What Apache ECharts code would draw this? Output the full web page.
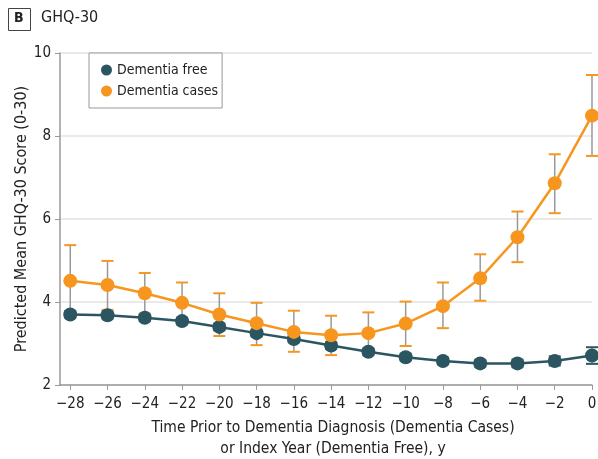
<!DOCTYPE html>
<html><head><meta charset="utf-8">
<script src="https://cdn.jsdelivr.net/npm/echarts@6/dist/echarts.min.js"></script>
<style>html,body{margin:0;padding:0;background:#fff}#c{width:598px;height:459px}</style>
</head><body><div id="c"></div>
<script>
const years = [-28,-26,-24,-22,-20,-18,-16,-14,-12,-10,-8,-6,-4,-2,0];
const casesMean = [4.51,4.41,4.21,3.98,3.70,3.49,3.28,3.20,3.25,3.48,3.90,4.57,5.56,6.86,8.49];
const casesUpper = [5.37,4.99,4.70,4.47,4.21,3.98,3.79,3.67,3.75,4.01,4.47,5.15,6.18,7.56,9.47];
const casesLower = [3.65,3.81,3.72,3.49,3.18,2.96,2.80,2.72,2.75,2.94,3.37,4.03,4.96,6.14,7.52];
const freeMean = [3.70,3.68,3.62,3.54,3.40,3.25,3.11,2.95,2.80,2.67,2.58,2.52,2.52,2.58,2.71];
const freeUpper = [3.78,3.76,3.70,3.62,3.48,3.33,3.19,3.03,2.88,2.75,2.66,2.60,2.61,2.69,2.91];
const freeLower = [3.62,3.60,3.54,3.46,3.32,3.17,3.03,2.87,2.72,2.59,2.50,2.44,2.43,2.47,2.51];
const yTicks = [2,4,6,8,10];

const ORANGE = '#F7961E', TEAL = '#2B5661';
const FONT = '"Liberation Sans Narrow","DejaVu Sans Condensed","Liberation Sans",sans-serif';

function errSeries(name, lower, upper, color) {
  return {
    type: 'custom', name: name, z: 2, silent: true, clip: false,
    itemStyle: {color: color},
    data: years.map((x, i) => [x, lower[i], upper[i]]),
    renderItem: function (params, api) {
      const lo = api.coord([api.value(0), api.value(1)]);
      const hi = api.coord([api.value(0), api.value(2)]);
      const hw = 6;
      return {
        type: 'group',
        children: [
          {type: 'line', shape: {x1: lo[0], y1: lo[1], x2: hi[0], y2: hi[1]}, style: {stroke: '#999', lineWidth: 1.5}},
          {type: 'line', shape: {x1: hi[0]-hw, y1: hi[1], x2: hi[0]+hw, y2: hi[1]}, style: {stroke: color, lineWidth: 2}},
          {type: 'line', shape: {x1: lo[0]-hw, y1: lo[1], x2: lo[0]+hw, y2: lo[1]}, style: {stroke: color, lineWidth: 2}}
        ]
      };
    }
  };
}

const chart = echarts.init(document.getElementById('c'), null, {renderer: 'canvas'});
chart.setOption({
  animation: false,
  textStyle: {fontFamily: FONT},
  grid: {left: 60, right: 6, top: 53, bottom: 74, containLabel: false, outerBoundsMode: 'none'},
  graphic: [
    {type: 'rect', left: 8, top: 8, shape: {width: 22, height: 22}, style: {fill: '#fff', stroke: '#444', lineWidth: 1}},
    {type: 'text', left: 14, top: 11, style: {text: 'B', font: 'bold 14px ' + FONT, fill: '#222'}},
    {type: 'text', left: 41, top: 10, style: {text: 'GHQ-30', font: '16px ' + FONT, fill: '#222'}}
  ],
  legend: {
    orient: 'vertical', left: 89, top: 53,
    padding: [10, 4, 10, 12], itemGap: 7,
    borderColor: '#999', borderWidth: 1, backgroundColor: '#fff',
    itemWidth: 11, itemHeight: 11,
    textStyle: {fontSize: 14, color: '#222', fontFamily: FONT},
    data: [{name: 'Dementia free', icon: 'circle', itemStyle: {color: TEAL}},
           {name: 'Dementia cases', icon: 'circle', itemStyle: {color: ORANGE}}]
  },
  xAxis: {
    type: 'value', min: -28.55, max: 0,
    name: 'Time Prior to Dementia Diagnosis (Dementia Cases)\nor Index Year (Dementia Free), y',
    nameLocation: 'middle', nameGap: 32, nameMoveOverlap: false,
    nameTextStyle: {fontSize: 15.5, color: '#222', lineHeight: 21, fontFamily: FONT, padding: [0, 0, 0, 14]},
    axisLine: {onZero: false, lineStyle: {color: '#999', width: 1.5}},
    axisTick: {show: true, length: 5, lineStyle: {color: '#999'}, customValues: years},
    axisLabel: {fontSize: 15, color: '#222', margin: 12, fontFamily: FONT,
      customValues: years,
      formatter: v => (v < 0 ? '\u2212' + Math.abs(v) : String(v))},
    splitLine: {show: false}
  },
  yAxis: {
    type: 'value', min: 2, max: 10, interval: 2,
    name: 'Predicted Mean GHQ-30 Score (0-30)',
    nameLocation: 'middle', nameGap: 30, nameMoveOverlap: false,
    nameTextStyle: {fontSize: 16, color: '#222', fontFamily: FONT},
    axisLine: {show: true, onZero: false, lineStyle: {color: '#999', width: 1.5}},
    axisTick: {show: true, length: 5, lineStyle: {color: '#999'}},
    axisLabel: {fontSize: 15, color: '#222', margin: 9, fontFamily: FONT},
    splitLine: {show: true, lineStyle: {color: '#e3e3e3', width: 1.5}}
  },
  series: [
    errSeries('err-free', freeLower, freeUpper, TEAL),
    errSeries('err-cases', casesLower, casesUpper, ORANGE),
    {type: 'line', name: 'Dementia free', z: 3, clip: false,
      data: years.map((x, i) => [x, freeMean[i]]),
      symbol: 'circle', symbolSize: 14,
      itemStyle: {color: TEAL}, lineStyle: {color: TEAL, width: 2.5}},
    {type: 'line', name: 'Dementia cases', z: 4, clip: false,
      data: years.map((x, i) => [x, casesMean[i]]),
      symbol: 'circle', symbolSize: 14,
      itemStyle: {color: ORANGE}, lineStyle: {color: ORANGE, width: 2.5}}
  ]
});
</script></body></html>
